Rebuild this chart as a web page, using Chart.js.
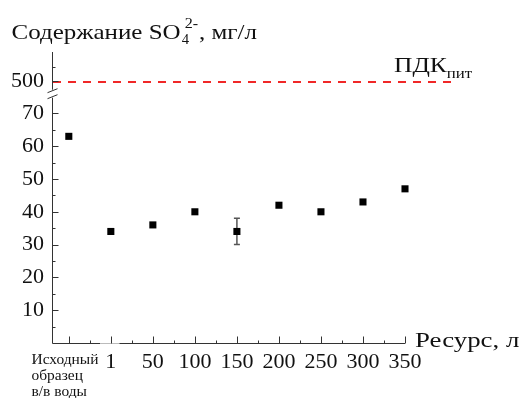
<!DOCTYPE html>
<html>
<head>
<meta charset="utf-8">
<script src="https://cdn.jsdelivr.net/npm/chart.js@4"></script>
<style>
  html, body { margin: 0; padding: 0; background: #fff; }
  #c { display: block; }
</style>
</head>
<body>
<canvas id="c" width="526" height="398"></canvas>
<script>
// ---- data ----
const categories = ['Исходный\nобразец\nв/в воды', '1', '50', '100', '150', '200', '250', '300', '350'];
const values = [63, 34, 36, 40, 34, 42, 40, 43, 47];
const errors = [0, 0, 0, 0, 4, 0, 0, 0, 0];
const yTickLabels = [10, 20, 30, 40, 50, 60, 70];
const yUpperTickLabels = [500];
const pdkValue = 500;
const yTitle = ['Содержание SO', '4', '2-', ', мг/л'];
const xTitle = 'Ресурс, л';
const pdkLabel = ['ПДК', 'пит'];

const SERIF = '"Liberation Serif", "Times New Roman", serif';
const F = (s) => s + 'px ' + SERIF;

// draw text with a horizontal stretch, return drawn width
function wideText(ctx, t, x, y, sx) {
  ctx.save();
  ctx.translate(x, y);
  ctx.scale(sx, 1);
  ctx.fillText(t, 0, 0);
  const w = ctx.measureText(t).width * sx;
  ctx.restore();
  return w;
}

const drawPlugin = {
  id: 'custom',
  beforeDatasetsDraw(chart) {
    const ctx = chart.ctx;
    const xs = chart.scales.x, ys = chart.scales.y;
    ctx.save();
    ctx.strokeStyle = '#555';
    ctx.lineWidth = 1.5;
    values.forEach((v, i) => {
      const e = errors[i];
      if (!e) return;
      const px = xs.getPixelForValue(i);
      const t = ys.getPixelForValue(v + e), b = ys.getPixelForValue(v - e);
      ctx.beginPath();
      ctx.moveTo(px, t); ctx.lineTo(px, b);
      ctx.moveTo(px - 3, t); ctx.lineTo(px + 3, t);
      ctx.moveTo(px - 3, b); ctx.lineTo(px + 3, b);
      ctx.stroke();
    });
    ctx.restore();
  },
  afterDraw(chart) {
    const ctx = chart.ctx;
    const xs = chart.scales.x, ys = chart.scales.y, y2 = chart.scales.y2;
    const area = chart.chartArea;
    const L = Math.round(area.left) + 0.5;
    const B = Math.round(area.bottom) + 0.5;
    ctx.save();

    // PDK dashed line
    const py = y2.getPixelForValue(pdkValue) + 0.5;
    ctx.strokeStyle = '#f02828';
    ctx.lineWidth = 2;
    ctx.setLineDash([8, 7]);
    ctx.beginPath();
    ctx.moveTo(L + 0.5, py); ctx.lineTo(area.right + 53, py);
    ctx.stroke();
    ctx.setLineDash([]);

    // axes lines
    ctx.strokeStyle = '#333';
    ctx.lineWidth = 1;
    const breakY = ys.top;
    ctx.beginPath();
    ctx.moveTo(L, area.top); ctx.lineTo(L, breakY - 4);
    ctx.moveTo(L, breakY + 4); ctx.lineTo(L, B);
    ctx.stroke();
    // break marks
    ctx.beginPath();
    ctx.moveTo(L - 5, breakY - 1); ctx.lineTo(L + 5, breakY - 5);
    ctx.moveTo(L - 5, breakY + 5); ctx.lineTo(L + 5, breakY + 1);
    ctx.stroke();

    // x axis line with light segment between first category and '1'
    const gapA = xs.getPixelForValue(0.75), gapB = xs.getPixelForValue(1.2);
    ctx.beginPath();
    ctx.moveTo(L, B); ctx.lineTo(gapA, B);
    ctx.moveTo(gapB, B); ctx.lineTo(area.right, B);
    ctx.stroke();
    ctx.strokeStyle = '#bbb';
    ctx.beginPath();
    ctx.moveTo(gapA, B); ctx.lineTo(gapB, B);
    ctx.stroke();
    ctx.strokeStyle = '#333';

    // y ticks (inward)
    ctx.beginPath();
    for (let v = 5; v <= 70; v += 5) {
      const p = Math.round(ys.getPixelForValue(v)) + 0.5;
      const len = v % 10 === 0 ? 6 : 3;
      ctx.moveTo(L, p); ctx.lineTo(L + len, p);
    }
    [500, 505].forEach(v => {
      const p = Math.round(y2.getPixelForValue(v)) + 0.5;
      const len = v % 10 === 0 ? 6 : 3;
      ctx.moveTo(L, p); ctx.lineTo(L + len, p);
    });
    // x ticks (inward)
    for (let k = 0; k <= 16; k++) {
      const v = k / 2;
      const p = Math.round(xs.getPixelForValue(v)) + 0.5;
      const len = k % 2 === 0 ? 7 : 3;
      ctx.moveTo(p, B); ctx.lineTo(p, B - len);
    }
    ctx.stroke();

    // x labels
    ctx.fillStyle = '#111';
    ctx.textBaseline = 'alphabetic';
    categories.forEach((c, i) => {
      const px = xs.getPixelForValue(i);
      if (c.indexOf('\n') >= 0) {
        ctx.font = F(15);
        ctx.textAlign = 'left';
        c.split('\n').forEach((line, j) => wideText(ctx, line, 31.5, 364 + j * 16, 1.03));
      } else {
        ctx.font = F(22);
        ctx.textAlign = 'center';
        ctx.fillText(c, px, 368);
      }
    });

    // x title
    ctx.textAlign = 'left';
    ctx.font = F(22);
    wideText(ctx, xTitle, 415, 347, 1.22);

    // y title
    let x = 11.5;
    ctx.font = F(21);
    x += wideText(ctx, yTitle[0], x, 39, 1.19);
    ctx.font = F(14);
    const w4 = wideText(ctx, yTitle[1], x + 1, 44, 1.05);
    const w2 = wideText(ctx, yTitle[2], x + 4, 28, 1.15);
    x = Math.max(x + 1 + w4, x + 4 + w2) + 1;
    ctx.font = F(21);
    wideText(ctx, yTitle[3], x, 39, 1.19);

    // PDK label
    ctx.font = F(22);
    const wp = wideText(ctx, pdkLabel[0], 394, 72, 1.16);
    ctx.font = F(14);
    wideText(ctx, pdkLabel[1], 394 + wp, 78, 1.2);

    ctx.restore();
  }
};

const yScaleCommon = {
  type: 'linear',
  position: 'left',
  stack: 'left',
  grid: { display: false, drawTicks: false },
  border: { display: false },
  ticks: {
    font: { family: SERIF, size: 22 },
    color: '#111',
    padding: 8,
    autoSkip: false,
    callback: (v) => String(v)
  },
  afterFit: (s) => { s.width = 52; }
};

new Chart(document.getElementById('c'), {
  type: 'scatter',
  data: {
    datasets: [{
      data: values.map((v, i) => ({ x: i, y: v })),
      xAxisID: 'x',
      yAxisID: 'y',
      pointStyle: 'rect',
      pointRadius: 5,
      pointHoverRadius: 5,
      backgroundColor: '#000',
      borderColor: '#000',
      borderWidth: 0,
      clip: false
    }]
  },
  options: {
    responsive: false,
    animation: false,
    devicePixelRatio: 1,
    layout: { padding: { left: 0, top: 52, right: 121, bottom: 0 } },
    plugins: { legend: { display: false }, tooltip: { enabled: false } },
    scales: {
      x: {
        type: 'linear',
        position: 'bottom',
        min: -0.4,
        max: 8,
        grid: { display: false, drawTicks: false },
        border: { display: false },
        ticks: { display: false },
        afterFit: (s) => { s.height = 55; }
      },
      y: Object.assign({}, yScaleCommon, {
        min: 0, max: 76, stackWeight: 249.3,
        afterBuildTicks: (s) => { s.ticks = yTickLabels.map(v => ({ value: v })); }
      }),
      y2: Object.assign({}, yScaleCommon, {
        min: 495.6, max: 510.5, stackWeight: 41.7,
        afterBuildTicks: (s) => { s.ticks = yUpperTickLabels.map(v => ({ value: v })); }
      })
    }
  },
  plugins: [drawPlugin]
});
</script>
</body>
</html>
